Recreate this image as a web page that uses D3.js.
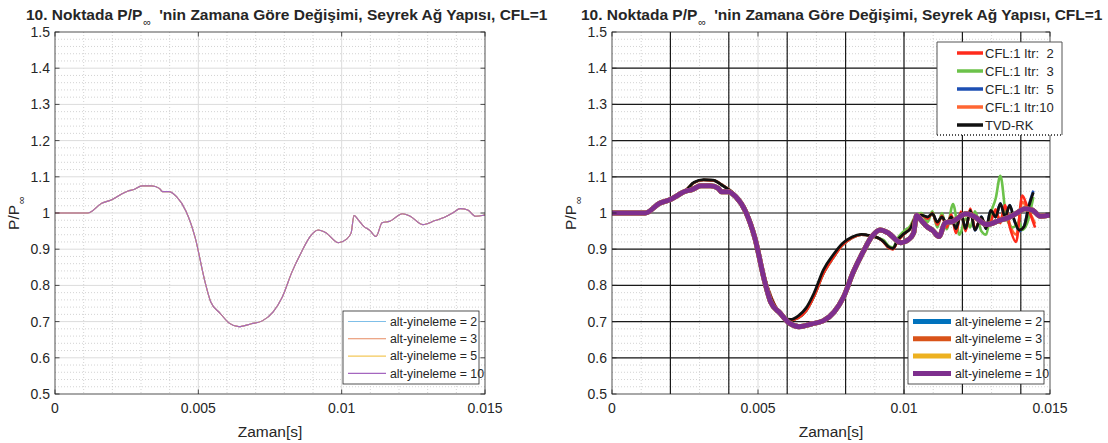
<!DOCTYPE html>
<html>
<head>
<meta charset="utf-8">
<script src="https://cdn.jsdelivr.net/npm/d3@7"></script>
<style>
  body { margin: 0; background: #fff; }
  svg { display: block; }
  text { font-family: "Liberation Sans", Arial, sans-serif; fill: #262626; }
</style>
</head>
<body>
<div id="chart"></div>
<script>
// ── Data ─────────────────────────────────────────────────────────────
// MATLAB results (all sub-iteration counts coincide)
const zaman = [0, 0.00114, 0.00163, 0.00196, 0.00255, 0.00272, 0.00304, 0.00337, 0.00364, 0.00375,
  0.00397, 0.00424, 0.00457, 0.00489, 0.00522, 0.00543, 0.00576, 0.00609, 0.00641, 0.00685,
  0.00723, 0.00761, 0.00793, 0.00826, 0.00859, 0.00891, 0.00918, 0.00946, 0.00989, 0.01016,
  0.01033, 0.01043, 0.0106, 0.01076, 0.01098, 0.0112, 0.01141, 0.01168, 0.01212, 0.01239,
  0.01283, 0.01326, 0.01359, 0.01391, 0.01413, 0.0144, 0.01467, 0.0149, 0.015];
const basinc = [1.0, 1.0, 1.027, 1.036, 1.061, 1.064, 1.075, 1.075, 1.068, 1.059,
  1.059, 1.045, 1.005, 0.932, 0.814, 0.755, 0.723, 0.695, 0.686, 0.694,
  0.702, 0.727, 0.768, 0.836, 0.891, 0.936, 0.953, 0.945, 0.918, 0.927,
  0.945, 0.993, 0.979, 0.964, 0.952, 0.935, 0.973, 0.977, 0.998, 0.991,
  0.968, 0.979, 0.988, 1.002, 1.012, 1.008, 0.991, 0.993, 0.995];

const altYineleme = ['alt-yineleme = 2', 'alt-yineleme = 3', 'alt-yineleme = 5', 'alt-yineleme = 10'];
const matlabRenk  = ['#0072BD', '#D95319', '#EDB120', '#7E2F8E'];
const inceRenk    = ['#7fbfe8', '#e68a60', '#f3c85a', '#a466bf'];   // thin lines look lighter

// Overlaid comparison (TVD-RK and CFL:1 runs)
const tvdZaman = [0, 0.00114, 0.00163, 0.00196, 0.00255, 0.00281, 0.00314, 0.00346, 0.00378, 0.00411,
  0.00443, 0.00476, 0.00503, 0.0053, 0.00557, 0.00589, 0.00611, 0.00638, 0.00665, 0.00692,
  0.00724, 0.00757, 0.00789, 0.00822, 0.00854, 0.00886, 0.00914, 0.0093, 0.00946, 0.00962,
  0.00978, 0.01, 0.01022, 0.01038, 0.01059, 0.01081, 0.01097, 0.01114, 0.0113, 0.01146,
  0.01162, 0.01178, 0.01195, 0.01211, 0.01227, 0.01243, 0.01265, 0.01281, 0.01297, 0.01314,
  0.0133, 0.01346, 0.01362, 0.01378, 0.01395, 0.01411, 0.01427, 0.01443];
const tvdBasinc = [1.0, 1.0, 1.027, 1.036, 1.064, 1.085, 1.092, 1.091, 1.076, 1.057,
  1.026, 0.962, 0.88, 0.798, 0.743, 0.711, 0.706, 0.716, 0.738, 0.779,
  0.843, 0.884, 0.916, 0.934, 0.941, 0.937, 0.93, 0.921, 0.907, 0.902,
  0.925, 0.943, 0.957, 0.985, 0.994, 0.989, 0.998, 0.975, 0.989, 0.971,
  0.989, 0.957, 0.998, 0.957, 1.007, 0.953, 0.989, 0.957, 1.007, 0.989,
  1.026, 0.989, 1.021, 0.98, 0.953, 0.962, 1.016, 1.057];

// common early part of the CFL:1 runs
const cflOrtakZaman = [0, 0.00114, 0.00163, 0.00196, 0.00255, 0.00281, 0.00314, 0.00346, 0.00378, 0.00411,
  0.00443, 0.00476, 0.00503, 0.0053, 0.00557, 0.00589, 0.00611, 0.00638, 0.00665, 0.00692,
  0.00724, 0.00757, 0.00789, 0.00822, 0.00854, 0.00886, 0.00914];
const cflOrtakBasinc = [1.0, 1.0, 1.027, 1.036, 1.064, 1.084, 1.091, 1.09, 1.077, 1.058,
  1.028, 0.966, 0.885, 0.803, 0.746, 0.712, 0.704, 0.71, 0.73, 0.77,
  0.833, 0.876, 0.911, 0.931, 0.94, 0.937, 0.93];

const itr2Zaman = [0.0093, 0.00946, 0.00962, 0.00978, 0.01, 0.01022, 0.01038, 0.01059, 0.01081, 0.01097,
  0.01114, 0.0113, 0.01146, 0.01162, 0.01178, 0.01195, 0.01211, 0.01227, 0.01243, 0.01265,
  0.01281, 0.01297, 0.01314, 0.0133, 0.01346, 0.01362, 0.01384, 0.01405, 0.01421, 0.01449];
const itr2Basinc = [0.92, 0.905, 0.9, 0.922, 0.942, 0.958, 0.987, 0.995, 0.984, 1.0,
  0.968, 0.992, 0.96, 0.996, 0.944, 1.004, 0.95, 1.012, 0.958, 0.986,
  0.962, 0.975, 1.01, 0.972, 1.022, 0.962, 0.92, 1.048, 1.02, 0.96];

const itr3Zaman = [0.0093, 0.00946, 0.00962, 0.00978, 0.01, 0.01022, 0.01038, 0.01059, 0.01081, 0.01097,
  0.01114, 0.0113, 0.01146, 0.01168, 0.0119, 0.01211, 0.01227, 0.01243, 0.01265, 0.01281,
  0.01297, 0.01314, 0.0133, 0.01351, 0.01373, 0.01395, 0.01405, 0.01421, 0.01443];
const itr3Basinc = [0.925, 0.91, 0.905, 0.93, 0.95, 0.965, 0.99, 1.0, 0.975, 1.005,
  0.96, 1.0, 0.955, 1.025, 0.94, 0.985, 0.96, 1.005, 0.95, 0.94,
  1.0, 1.04, 1.103, 0.985, 0.96, 0.975, 0.953, 0.97, 1.044];

const itr5Zaman = [0.0093, 0.00946, 0.00962, 0.00978, 0.01, 0.01022, 0.01038, 0.01059, 0.01081, 0.01097,
  0.01114, 0.0113, 0.01146, 0.01162, 0.01178, 0.01195, 0.01211, 0.01227, 0.01243, 0.01265,
  0.01281, 0.01297, 0.01314, 0.0133, 0.01346, 0.01362, 0.01378, 0.01395, 0.01411, 0.01427, 0.01443];
const itr5Basinc = [0.921, 0.906, 0.901, 0.924, 0.943, 0.958, 0.986, 0.994, 0.988, 0.999,
  0.974, 0.99, 0.97, 0.99, 0.956, 0.999, 0.956, 1.008, 0.952, 0.99,
  0.956, 1.008, 0.988, 1.027, 0.988, 1.022, 0.978, 0.95, 0.964, 1.02, 1.062];

const itr10Zaman = itr2Zaman;
const itr10Basinc = [0.92, 0.905, 0.9, 0.922, 0.942, 0.958, 0.986, 0.994, 0.986, 0.999,
  0.97, 0.99, 0.962, 0.993, 0.95, 1.0, 0.953, 1.008, 0.955, 0.988,
  0.96, 0.99, 1.0, 0.98, 1.02, 0.97, 0.94, 1.03, 1.015, 0.97];

const cflEtiket = ['CFL:1 Itr:  2', 'CFL:1 Itr:  3', 'CFL:1 Itr:  5', 'CFL:1 Itr:10', 'TVD-RK'];
const cflRenk   = ['#ff2b1c', '#6cc24a', '#1d4fb3', '#ff6633', '#111111'];

// Axes
const xTicks = [0, 0.005, 0.01, 0.015];
const xTickLabels = ['0', '0.005', '0.01', '0.015'];
const yTicks = [0.5, 0.6, 0.7, 0.8, 0.9, 1.0, 1.1, 1.2, 1.3, 1.4, 1.5];
const yTickLabels = ['0.5', '0.6', '0.7', '0.8', '0.9', '1', '1.1', '1.2', '1.3', '1.4', '1.5'];
const overlayXGrid = [0.002, 0.004, 0.006, 0.008, 0.010, 0.012, 0.014];

// ── Layout ───────────────────────────────────────────────────────────
const W = 1108, H = 443;
const TOP = 32, BOTTOM = 394;

const svg = d3.select('#chart').append('svg')
  .attr('width', W).attr('height', H);

const pts = (xs, ys) => d3.zip(xs, ys);

function drawPanel(x0, x1, kalin, titleX) {
  const g = svg.append('g');
  const x = d3.scaleLinear().domain([0, 0.015]).range([x0, x1]);
  const y = d3.scaleLinear().domain([0.5, 1.5]).range([BOTTOM, TOP]);
  const clipId = 'clip' + x0;

  g.append('clipPath').attr('id', clipId)
    .append('rect').attr('x', x0).attr('y', TOP).attr('width', x1 - x0).attr('height', BOTTOM - TOP);

  // minor grid (dotted)
  const minorX = d3.range(0.001, 0.015, 0.001).filter(v => Math.abs(v / 0.005 - Math.round(v / 0.005)) > 1e-6);
  const minorY = d3.range(0.52, 1.5, 0.02).filter(v => Math.abs(v * 10 - Math.round(v * 10)) > 1e-6);
  g.append('g').selectAll('line').data(minorX).join('line')
    .attr('x1', d => x(d)).attr('x2', d => x(d)).attr('y1', TOP).attr('y2', BOTTOM)
    .attr('stroke', '#c8c8c8').attr('stroke-width', 0.8).attr('stroke-dasharray', '1,2');
  g.append('g').selectAll('line').data(minorY).join('line')
    .attr('x1', x0).attr('x2', x1).attr('y1', d => y(d)).attr('y2', d => y(d))
    .attr('stroke', '#c8c8c8').attr('stroke-width', 0.8).attr('stroke-dasharray', '1,2');

  // major grid
  g.append('g').selectAll('line').data(xTicks.slice(1, -1)).join('line')
    .attr('x1', d => x(d)).attr('x2', d => x(d)).attr('y1', TOP).attr('y2', BOTTOM)
    .attr('stroke', '#dcdcdc').attr('stroke-width', 1);
  g.append('g').selectAll('line').data(yTicks.slice(1, -1)).join('line')
    .attr('x1', x0).attr('x2', x1).attr('y1', d => y(d)).attr('y2', d => y(d))
    .attr('stroke', '#dcdcdc').attr('stroke-width', 1);

  const line = d3.line().x(d => x(d[0])).y(d => y(d[1])).curve(d3.curveMonotoneX);
  const plotG = g.append('g').attr('clip-path', `url(#${clipId})`);

  if (kalin) {
    // overlaid comparison picture: black grid + curves
    plotG.append('g').selectAll('line').data(overlayXGrid).join('line')
      .attr('x1', d => x(d)).attr('x2', d => x(d)).attr('y1', TOP).attr('y2', BOTTOM)
      .attr('stroke', '#1a1a1a').attr('stroke-width', 1.2);
    plotG.append('g').selectAll('line').data(yTicks.slice(1, -1)).join('line')
      .attr('x1', x0).attr('x2', x1).attr('y1', d => y(d)).attr('y2', d => y(d))
      .attr('stroke', '#1a1a1a').attr('stroke-width', 1.2);

    const cflSeriler = [
      { z: itr10Zaman, b: itr10Basinc, renk: cflRenk[3] },
      { z: itr5Zaman,  b: itr5Basinc,  renk: cflRenk[2] },
      { z: itr3Zaman,  b: itr3Basinc,  renk: cflRenk[1] },
      { z: itr2Zaman,  b: itr2Basinc,  renk: cflRenk[0] },
    ];
    cflSeriler.forEach(s => {
      const veri = pts(cflOrtakZaman, cflOrtakBasinc).concat(pts(s.z, s.b));
      plotG.append('path').datum(veri).attr('d', line)
        .attr('fill', 'none').attr('stroke', s.renk).attr('stroke-width', 2.6)
        .attr('stroke-linejoin', 'round');
    });
    plotG.append('path').datum(pts(tvdZaman, tvdBasinc)).attr('d', line)
      .attr('fill', 'none').attr('stroke', cflRenk[4]).attr('stroke-width', 2.8)
      .attr('stroke-linejoin', 'round');
  }

  const renkler = kalin ? matlabRenk : inceRenk;
  renkler.forEach(renk => {
    plotG.append('path').datum(pts(zaman, basinc)).attr('d', line)
      .attr('fill', 'none').attr('stroke', renk)
      .attr('stroke-width', kalin ? 5 : 1.1)
      .attr('stroke-linejoin', 'round');
  });

  // box + inward ticks
  g.append('rect').attr('x', x0).attr('y', TOP).attr('width', x1 - x0).attr('height', BOTTOM - TOP)
    .attr('fill', 'none').attr('stroke', '#262626').attr('stroke-width', 0.8);
  const tl = 4.5;
  g.append('g').selectAll('path').data(xTicks).join('path')
    .attr('d', d => `M${x(d)},${BOTTOM}v${-tl}M${x(d)},${TOP}v${tl}`)
    .attr('stroke', '#262626').attr('stroke-width', 0.8);
  g.append('g').selectAll('path').data(yTicks).join('path')
    .attr('d', d => `M${x0},${y(d)}h${tl}M${x1},${y(d)}h${-tl}`)
    .attr('stroke', '#262626').attr('stroke-width', 0.8);

  // tick labels
  g.append('g').selectAll('text').data(xTicks).join('text')
    .attr('x', d => x(d)).attr('y', BOTTOM + 19)
    .attr('text-anchor', 'middle').attr('font-size', 14)
    .text((d, i) => xTickLabels[i]);
  g.append('g').selectAll('text').data(yTicks).join('text')
    .attr('x', x0 - 5).attr('y', d => y(d) + 5)
    .attr('text-anchor', 'end').attr('font-size', 14)
    .text((d, i) => yTickLabels[i]);

  // axis labels
  g.append('text').attr('x', (x0 + x1) / 2).attr('y', BOTTOM + 43)
    .attr('text-anchor', 'middle').attr('font-size', 15.5).text('Zaman[s]');
  const yl = g.append('text')
    .attr('transform', `translate(${x0 - 36},${(TOP + BOTTOM) / 2}) rotate(-90)`)
    .attr('text-anchor', 'middle').attr('font-size', 15.5);
  yl.append('tspan').text('P/P');
  yl.append('tspan').attr('font-size', 11).attr('dy', 6).attr('dx', 1).text('∞');

  // title
  const t = g.append('text').attr('x', titleX).attr('y', 20)
    .attr('font-size', 15.5).attr('font-weight', 'bold').attr('fill', '#000');
  t.append('tspan').text('10. Noktada P/P');
  t.append('tspan').attr('font-size', 11).attr('font-weight', 'normal').attr('dy', 6).attr('dx', 1).text('∞');
  t.append('tspan').attr('dy', -6).attr('dx', 8).text("'nin Zamana Göre Değişimi, Seyrek Ağ Yapısı, CFL=1");

  // MATLAB legend
  const lw = 136, lh = 73;
  const lx = x1 - 6 - lw, ly = BOTTOM - 10 - lh;
  const leg = g.append('g');
  leg.append('rect').attr('x', lx).attr('y', ly).attr('width', lw).attr('height', lh)
    .attr('fill', '#fff').attr('stroke', '#262626').attr('stroke-width', 0.8);
  altYineleme.forEach((ad, i) => {
    const cy = ly + 10.5 + i * 17.3;
    leg.append('line').attr('x1', lx + 5).attr('x2', lx + 43).attr('y1', cy).attr('y2', cy)
      .attr('stroke', kalin ? matlabRenk[i] : inceRenk[i]).attr('stroke-width', kalin ? 5 : 1.1);
    leg.append('text').attr('x', lx + 47).attr('y', cy + 4.3).attr('font-size', 12.3).text(ad);
  });

  if (kalin) {
    // legend of the overlaid comparison picture
    const ox = x1 - 113, oy = 42, ow = 125, oh = 93;
    const og = g.append('g');
    og.append('rect').attr('x', ox).attr('y', oy).attr('width', ow).attr('height', oh)
      .attr('fill', '#fff').attr('stroke', 'none');
    og.append('path').attr('d', `M${ox},${oy + oh}V${oy}H${ox + ow}V${oy + oh}`)
      .attr('fill', 'none').attr('stroke', '#555').attr('stroke-width', 1);
    og.append('line').attr('x1', ox).attr('x2', ox + ow).attr('y1', oy + oh).attr('y2', oy + oh)
      .attr('stroke', '#555').attr('stroke-width', 2).attr('stroke-dasharray', '1,2');
    cflEtiket.forEach((ad, i) => {
      const cy = oy + 11 + i * 18;
      og.append('line').attr('x1', ox + 20).attr('x2', ox + 46).attr('y1', cy).attr('y2', cy)
        .attr('stroke', cflRenk[i]).attr('stroke-width', 3.5);
      og.append('text').attr('x', ox + 48).attr('y', cy + 5)
        .attr('font-family', 'Lato, "Open Sans", sans-serif').attr('font-size', 13)
        .attr('fill', '#111').style('white-space', 'pre').text(ad);
    });
  }
}

drawPanel(55, 485, false, 26);
drawPanel(612, 1050, true, 581);
</script>
</body>
</html>
